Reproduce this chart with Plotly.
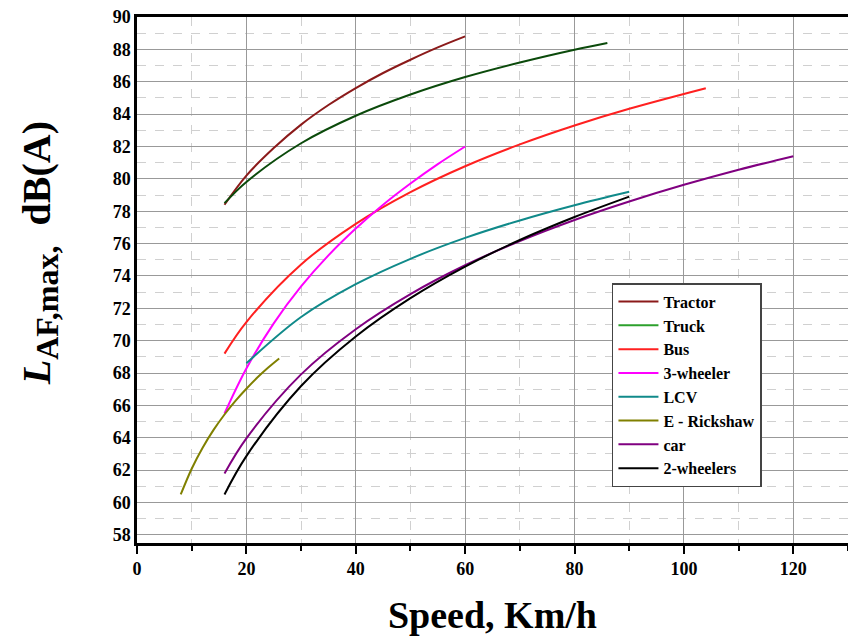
import plotly.graph_objects as go

# Data
tractor_x = [16, 20, 25, 30, 35, 40, 45, 50, 55, 60]
tractor_y = [78.4, 80.2, 81.9, 83.35, 84.56, 85.61, 86.54, 87.36, 88.12, 88.8]

truck_x = [16, 20, 30, 40, 50, 60, 70, 80, 86]
truck_y = [78.5, 79.81, 82.2, 83.9, 85.21, 86.29, 87.19, 87.98, 88.4]

bus_x = [16, 20, 30, 40, 50, 60, 70, 80, 90, 104]
bus_y = [69.2, 71.15, 74.71, 77.22, 79.18, 80.78, 82.13, 83.30, 84.33, 85.6]

wheeler3_x = [16, 20, 25, 30, 35, 40, 45, 50, 55, 60]
wheeler3_y = [65.5, 68.28, 71.07, 73.35, 75.27, 76.93, 78.40, 79.71, 80.91, 82.0]

lcv_x = [20, 30, 40, 50, 60, 70, 80, 90]
lcv_y = [68.6, 71.46, 73.49, 75.06, 76.35, 77.43, 78.37, 79.2]

erick_x = [8, 10, 12, 14, 16, 18, 20, 22, 24, 26]
erick_y = [60.5, 62.09, 63.39, 64.49, 65.44, 66.28, 67.03, 67.72, 68.34, 68.9]

car_x = [16, 20, 30, 40, 50, 60, 70, 80, 90, 100, 110, 120]
car_y = [61.8, 63.97, 67.92, 70.71, 72.88, 74.66, 76.16, 77.46, 78.6, 79.63, 80.56, 81.4]

wheeler2_x = [16, 20, 30, 40, 50, 60, 70, 80, 90]
wheeler2_y = [60.5, 62.87, 67.2, 70.26, 72.63, 74.58, 76.22, 77.64, 78.9]

series = [
    ("Tractor", tractor_x, tractor_y, "#8B1A1A", "#8B1A1A"),
    ("Truck", truck_x, truck_y, "#0B4A0B", "#2CA02C"),
    ("Bus", bus_x, bus_y, "#FF2020", "#FF2020"),
    ("3-wheeler", wheeler3_x, wheeler3_y, "#FF00FF", "#FF00FF"),
    ("LCV", lcv_x, lcv_y, "#108A8A", "#108A8A"),
    ("E - Rickshaw", erick_x, erick_y, "#808000", "#808000"),
    ("car", car_x, car_y, "#800080", "#800080"),
    ("2-wheelers", wheeler2_x, wheeler2_y, "#000000", "#000000"),
]

fig = go.Figure()
for name, xs, ys, col, legcol in series:
    fig.add_trace(go.Scatter(x=xs, y=ys, mode="lines", name=name,
                             line=dict(color=col, width=2, shape="spline"),
                             showlegend=False))
for name, xs, ys, col, legcol in series:
    fig.add_trace(go.Scatter(x=[None], y=[None], mode="lines", name=name,
                             line=dict(color=legcol, width=2)))

font_family = "Liberation Serif, Times New Roman, serif"

fig.update_layout(
    width=848, height=640,
    margin=dict(l=137, r=0, t=17, b=97),
    plot_bgcolor="white", paper_bgcolor="white",
    font=dict(family=font_family, color="black"),
    legend=dict(x=0.668, y=0.494, xanchor="left", yanchor="top",
                bgcolor="white", bordercolor="#444", borderwidth=1.5,
                font=dict(family=font_family, size=16, color="black", weight="bold"),
                tracegroupgap=0, itemwidth=40),
    xaxis=dict(
        range=[0, 130], dtick=20, tick0=0,
        showline=True, linecolor="black", linewidth=2.5, mirror=True,
        ticks="outside", ticklen=8, tickwidth=2, tickcolor="black",
        showgrid=True, gridcolor="#999999", gridwidth=1,
        zeroline=False,
        tickfont=dict(family=font_family, size=18, color="black", weight="bold"),
        title=dict(text="<b>Speed, Km/h</b>",
                   font=dict(family=font_family, size=38, color="black"),
                   standoff=24),
        minor=dict(dtick=10, showgrid=True, gridcolor="#d0d0d0", griddash="dash",
                   gridwidth=1, ticks="outside", ticklen=5, tickwidth=1.5,
                   tickcolor="black"),
    ),
    yaxis=dict(
        range=[57.5, 90], dtick=2, tick0=58,
        showline=True, linecolor="black", linewidth=2.5, mirror=False,
        ticks="", showgrid=True, gridcolor="#999999", gridwidth=1,
        zeroline=False,
        tickfont=dict(family=font_family, size=18, color="black", weight="bold"),
        minor=dict(dtick=1, showgrid=True, gridcolor="#d0d0d0", griddash="dash",
                   gridwidth=1),
    ),
    annotations=[dict(
        text="<b><i>L</i><sub><span style='font-size:32px'>AF,max,</span></sub>&nbsp;&nbsp;dB(A)</b>",
        xref="paper", yref="paper", x=-0.137, y=0.55,
        xanchor="center", yanchor="middle", textangle=-90, showarrow=False,
        font=dict(family=font_family, size=40, color="black"),
    )],
)

fig.write_html("out.html")
